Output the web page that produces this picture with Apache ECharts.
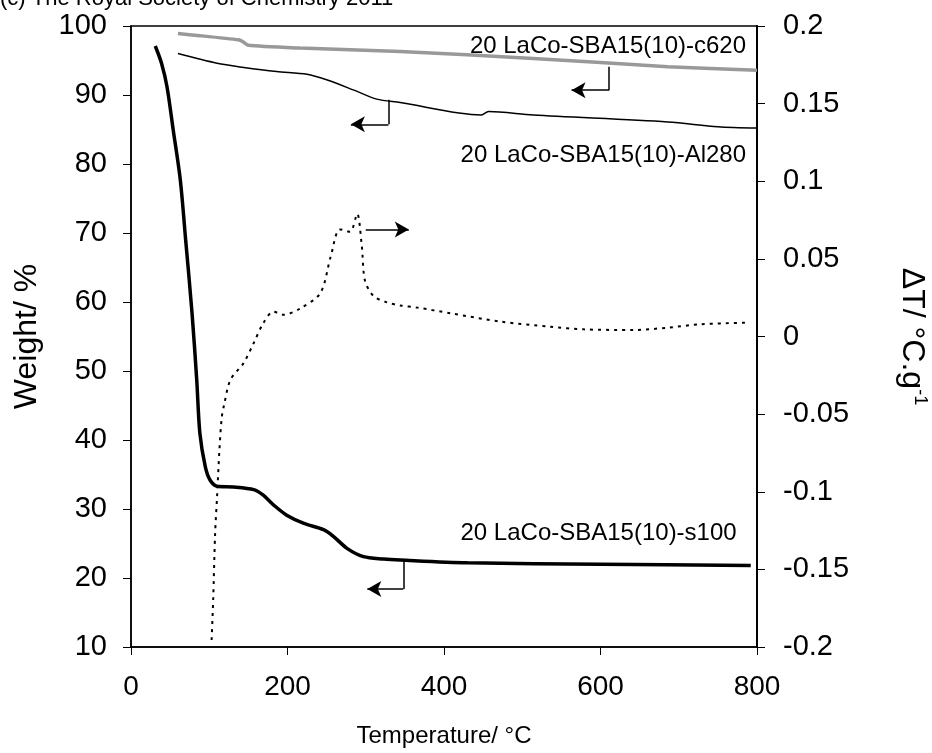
<!DOCTYPE html>
<html>
<head>
<meta charset="utf-8">
<script src="https://cdn.jsdelivr.net/npm/echarts@6/dist/echarts.min.js"></script>
<style>
  html, body { margin: 0; padding: 0; background: #fff; }
  #main { width: 932px; height: 753px; }
</style>
</head>
<body>
<div id="main"></div>
<script>
// TG curves (weight %) and DTA curve
const s100 = [[31,97.1],[39,94.6],[46,91.2],[54,84.9],[63,77.7],[70,68.8],[78,58.4],[84,48.7],[88,41],[95,36.1],[101,34.2],[110,33.3],[131,33.2],[157,32.8],[169,32.0],[182,30.6],[199,29.1],[221,27.9],[246,27.0],[259,26.0],[276,24.3],[297,23.1],[323,22.75],[344,22.6],[430,22.2],[600,22.0],[792,21.8]]
const al280 = [[60,96.0],[110,94.6],[144,94.0],[186,93.4],[225,93.0],[250,92.2],[285,90.7],[314,89.4],[344,88.9],[447,87.1],[457,87.6],[514,87.1],[686,86.1],[750,85.4],[800,85.2]]
const c620 = [[60,98.9],[88,98.6],[137,98.0],[142,97.8],[150,97.2],[216,96.8],[344,96.3],[514,95.3],[686,94.1],[800,93.6]]
const dta = [[103,-0.1955],[105,-0.170],[107.5,-0.127],[110,-0.103],[113,-0.073],[116,-0.052],[119,-0.044],[127,-0.028],[144,-0.017],[157,-0.004],[169,0.0085],[182,0.016],[195,0.014],[216,0.018],[242,0.028],[255,0.051],[267,0.069],[280,0.0675],[289,0.079],[295,0.058],[299,0.036],[310,0.026],[327,0.022],[344,0.020],[366,0.0186],[408,0.015],[472,0.0096],[536,0.0063],[579,0.0046],[643,0.0042],[686,0.0057],[728,0.0079],[786,0.0089]]

// arrow annotations: [start, corner, tip]
const arrowC620 = [[611,94.1],[611,90.7],[563,90.7]]
const arrowAl280 = [[329,89.3],[329,85.75],[281,85.75]]
const arrowS100 = [[348,22.6],[348,18.4],[302,18.4]]
const arrowDta = [[300,0.069],[355,0.069]]

// curve labels: [x, y, text]
const labelC620 = [786, 97.0, '20 LaCo-SBA15(10)-c620']
const labelAl280 = [786, 81.3, '20 LaCo-SBA15(10)-Al280']
const labelS100 = [774, 26.5, '20 LaCo-SBA15(10)-s100']

const FONT = 'Liberation Sans, Arial, sans-serif'

const bentArrow = pts => [
  [{ coord: pts[0], symbol: 'none' }, { coord: pts[1], symbol: 'none' }],
  [{ coord: pts[1], symbol: 'none' }, { coord: pts[2], symbol: 'arrow' }]
]
const arrowStyle = { color: '#000', width: 1.5, type: 'solid' }
const markArrows = data => ({
  silent: true, animation: false, symbolSize: [12, 14],
  label: { show: false }, lineStyle: arrowStyle, data
})
const markLabel = l => ({
  silent: true, animation: false,
  data: [{
    coord: [l[0], l[1]], symbol: 'rect', symbolSize: 0,
    label: { show: true, position: 'left', distance: 0, formatter: l[2], color: '#000', fontSize: 24, fontFamily: FONT }
  }]
})

const chart = echarts.init(document.getElementById('main'))
chart.setOption({
  animation: false,
  backgroundColor: '#fff',
  textStyle: { fontFamily: FONT },
  graphic: [{
    type: 'text', left: 0, top: -12,
    style: { text: '(c) The Royal Society of Chemistry 2011', fontSize: 22, fontFamily: FONT, fill: '#000' }
  }],
  grid: { left: 131, right: 175, top: 26, bottom: 106, show: true, borderColor: '#000', borderWidth: 1.5, outerBoundsMode: 'none', containLabel: false },
  xAxis: {
    type: 'value', min: 0, max: 800, interval: 200,
    name: 'Temperature/ °C', nameLocation: 'middle', nameGap: 77,
    nameTextStyle: { fontSize: 24, color: '#000' },
    axisLine: { onZero: false, lineStyle: { color: '#000', width: 1.5 } },
    axisTick: { length: 8, lineStyle: { color: '#000' } },
    axisLabel: { fontSize: 28, color: '#000', margin: 26 },
    splitLine: { show: false }
  },
  yAxis: [{
    type: 'value', min: 10, max: 100, interval: 10,
    name: 'Weight/ %', nameLocation: 'middle', nameGap: 88,
    nameTextStyle: { fontSize: 32, color: '#000' },
    axisLine: { show: true, onZero: false, lineStyle: { color: '#000', width: 1.5 } },
    axisTick: { show: true, length: 8, lineStyle: { color: '#000' } },
    axisLabel: { fontSize: 29, color: '#000', margin: 24 },
    splitLine: { show: false }
  }, {
    type: 'value', min: -0.2, max: 0.2, interval: 0.05, position: 'right',
    name: '{a|ΔT/ °C.g}{s|-1}', nameLocation: 'middle', nameGap: 138, nameRotate: -90,
    nameTextStyle: { rich: { a: { fontSize: 32, color: '#000', fontFamily: FONT }, s: { fontSize: 18, color: '#000', fontFamily: FONT, verticalAlign: 'top', padding: [0, 0, 16, 0] } } },
    axisLine: { show: true, onZero: false, lineStyle: { color: '#000', width: 2 } },
    axisTick: { show: true, length: 8, lineStyle: { color: '#000' } },
    axisLabel: { fontSize: 29, color: '#000', margin: 26, formatter: v => String(parseFloat(v.toFixed(2))) },
    splitLine: { show: false }
  }],
  series: [{
    name: 's100', type: 'line', data: s100, smooth: 0.3, showSymbol: false,
    lineStyle: { color: '#000', width: 3.5 },
    markLine: markArrows(bentArrow(arrowS100)), markPoint: markLabel(labelS100)
  }, {
    name: 'Al280', type: 'line', data: al280, smooth: 0.3, showSymbol: false,
    lineStyle: { color: '#000', width: 1.5 },
    markLine: markArrows(bentArrow(arrowAl280)), markPoint: markLabel(labelAl280)
  }, {
    name: 'c620', type: 'line', data: c620, smooth: 0.2, showSymbol: false,
    lineStyle: { color: '#999', width: 3.5 },
    markLine: markArrows(bentArrow(arrowC620)), markPoint: markLabel(labelC620)
  }, {
    name: 'DTA', type: 'line', yAxisIndex: 1, data: dta, smooth: 0.3, showSymbol: false,
    lineStyle: { color: '#000', width: 2, type: [3, 5] },
    markLine: markArrows([[{ coord: arrowDta[0], symbol: 'none' }, { coord: arrowDta[1], symbol: 'arrow' }]])
  }]
})
</script>
</body>
</html>
